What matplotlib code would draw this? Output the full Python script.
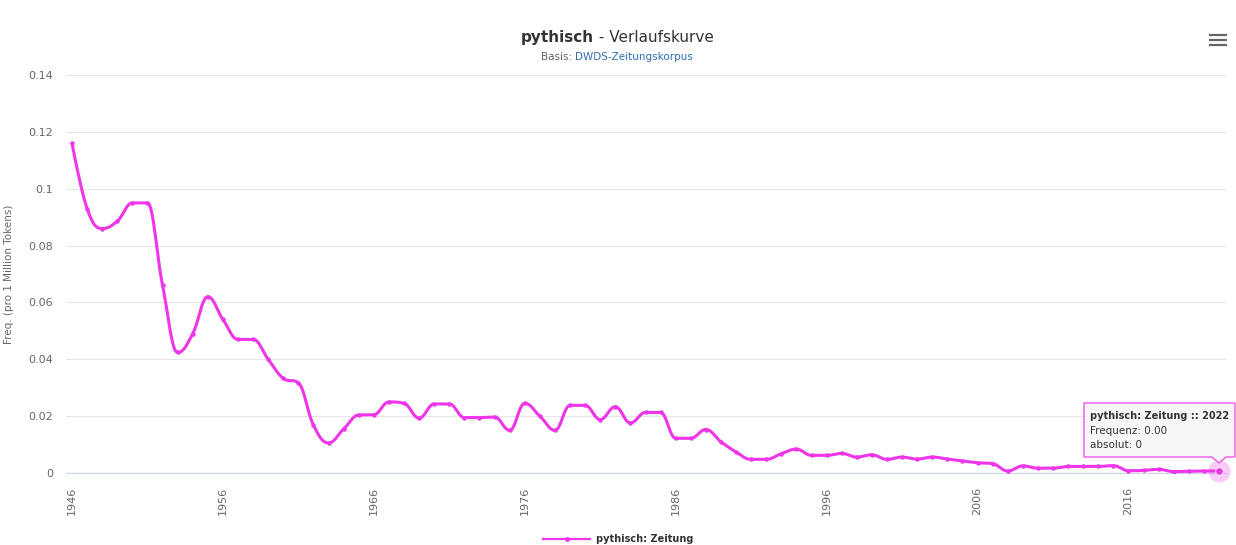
import numpy as np
import matplotlib
matplotlib.use("Agg")
import matplotlib.pyplot as plt
from matplotlib.patches import Polygon

# --- Daten ---
years = list(range(1946, 2023))
freq = [
    0.1160, 0.0930, 0.0860, 0.0886, 0.0950, 0.0950, 0.0660, 0.0424, 0.0490, 0.0620,
    0.0540, 0.0470, 0.0470, 0.0400, 0.0333, 0.0317, 0.0168, 0.0106, 0.0155, 0.0204,
    0.0205, 0.0250, 0.0245, 0.0193, 0.0243, 0.0243, 0.0195, 0.0195, 0.0197, 0.0150,
    0.0245, 0.0200, 0.0150, 0.0238, 0.0238, 0.0188, 0.0233, 0.0176, 0.0213, 0.0213,
    0.0122, 0.0122, 0.0153, 0.0110, 0.0074, 0.0048, 0.0048, 0.0068, 0.0084, 0.0062,
    0.0062, 0.0069, 0.0056, 0.0064, 0.0048, 0.0056, 0.0049, 0.0056, 0.0049, 0.0043,
    0.0036, 0.0033, 0.0007, 0.0025, 0.0017, 0.0017, 0.0023, 0.0023, 0.0023, 0.0026,
    0.0008, 0.0009, 0.0013, 0.0005, 0.0006, 0.0007, 0.0007,
]
xticks = list(range(1946, 2017, 10))
yticks = [0, 0.02, 0.04, 0.06, 0.08, 0.1, 0.12, 0.14]
ytick_labels = ['0', '0.02', '0.04', '0.06', '0.08', '0.1', '0.12', '0.14']
series_name = 'pythisch: Zeitung'

LINE = '#ee35e8'
GRAY = '#666666'
W, H = 1236, 545


def spline_curve(xs, ys, smoothing=1.5, steps=24):
    """Spline wie bei Highcharts: Bezier-Segmente mit Kontrollpunkten aus den Nachbarn."""
    xs = np.asarray(xs, float)
    ys = np.asarray(ys, float)
    n = len(xs)
    lc = np.column_stack([xs, ys]).copy()
    rc = np.column_stack([xs, ys]).copy()
    denom = smoothing + 1
    for i in range(1, n - 1):
        x, y = xs[i], ys[i]
        lx, ly = xs[i - 1], ys[i - 1]
        nx, ny = xs[i + 1], ys[i + 1]
        lcx = (smoothing * x + lx) / denom
        lcy = (smoothing * y + ly) / denom
        rcx = (smoothing * x + nx) / denom
        rcy = (smoothing * y + ny) / denom
        if rcx != lcx:
            corr = (rcy - lcy) * (rcx - x) / (rcx - lcx) + y - rcy
            lcy += corr
            rcy += corr
        if lcy > ly and lcy > y:
            lcy = max(ly, y)
            rcy = 2 * y - lcy
        elif lcy < ly and lcy < y:
            lcy = min(ly, y)
            rcy = 2 * y - lcy
        if rcy > ny and rcy > y:
            rcy = max(ny, y)
            lcy = 2 * y - rcy
        elif rcy < ny and rcy < y:
            rcy = min(ny, y)
            lcy = 2 * y - rcy
        lc[i] = (lcx, lcy)
        rc[i] = (rcx, rcy)
    t = np.linspace(0, 1, steps)[:, None]
    pts = []
    for i in range(1, n):
        p0 = np.array([xs[i - 1], ys[i - 1]])
        p1 = rc[i - 1]
        p2 = lc[i]
        p3 = np.array([xs[i], ys[i]])
        seg = ((1 - t) ** 3) * p0 + 3 * ((1 - t) ** 2) * t * p1 + 3 * (1 - t) * t ** 2 * p2 + t ** 3 * p3
        pts.append(seg if i == 1 else seg[1:])
    pts = np.vstack(pts)
    return pts[:, 0], pts[:, 1]


def fx(px):
    return px / W


def fy(py):
    return 1 - py / H


plt.rcParams['font.family'] = 'DejaVu Sans'
fig = plt.figure(figsize=(W / 100, H / 100), dpi=100)
fig.set_facecolor('white')

# Plotbereich in Pixeln
left_px, right_px, top_px, bottom_px = 65.5, 1225.5, 75, 473
ax = fig.add_axes([fx(left_px), fy(bottom_px), (right_px - left_px) / W, (bottom_px - top_px) / H])
ax.set_facecolor('white')

px_per_year = (1219 - 72) / (2022 - 1946)
ax.set_xlim(1946 - (72 - left_px) / px_per_year, 2022 + (right_px - 1219) / px_per_year)
ax.set_ylim(0, 0.14)

ax.set_yticks(yticks)
ax.set_yticklabels(ytick_labels)
ax.set_xticks(xticks)
ax.set_xticklabels([str(y) for y in xticks], rotation=90)
ax.tick_params(axis='both', length=0, labelsize=8, labelcolor=GRAY)
ax.tick_params(axis='y', pad=9)
ax.tick_params(axis='x', pad=10)
ax.grid(axis='y', color='#e6e6e6', linewidth=0.8)
ax.set_axisbelow(True)
for s in ['left', 'right', 'top']:
    ax.spines[s].set_visible(False)
ax.spines['bottom'].set_color('#ccd6eb')
ax.spines['bottom'].set_linewidth(0.8)

ax.set_ylabel('Freq. (pro 1 Million Tokens)', fontsize=7.5, color=GRAY, labelpad=10)

# Kurve
sx, sy = spline_curve(years, freq)
ax.plot(sx, sy, color=LINE, linewidth=2.2, solid_capstyle='round', solid_joinstyle='round', zorder=3)
ax.plot(years, freq, 'o', color=LINE, markersize=2.2, zorder=4)

# hervorgehobener Punkt 2022
ax.plot([years[-1]], [freq[-1]], 'o', color=LINE, markersize=16, alpha=0.25, markeredgewidth=0, zorder=5,
        clip_on=False)
ax.plot([years[-1]], [freq[-1]], 'o', color=LINE, markersize=5.5, markeredgecolor='white',
        markeredgewidth=0.6, zorder=6, clip_on=False)

# Titel
fig.canvas.draw()
renderer = fig.canvas.get_renderer()


def centered_pieces(pieces, cx, cy, size):
    arts = []
    for txt, weight, color in pieces:
        arts.append(fig.text(0, fy(cy), txt, fontsize=size, fontweight=weight, color=color, va='center'))
    widths = [a.get_window_extent(renderer).width for a in arts]
    x = cx - sum(widths) / 2
    for a, w in zip(arts, widths):
        a.set_x(fx(x))
        x += w


centered_pieces([('pythisch', 'bold', '#333333'), (' - Verlaufskurve', 'normal', '#333333')], 617, 37.5, 11)
centered_pieces([('Basis: ', 'normal', GRAY), ('DWDS-Zeitungskorpus', 'normal', '#2f6fb5')], 617, 57.5, 7.5)

# Menue-Symbol
for yy in (34.7, 39.7, 44.7):
    fig.add_artist(plt.Line2D([fx(1210), fx(1225.5)], [fy(yy), fy(yy)], color=GRAY, linewidth=1.6,
                              transform=fig.transFigure))

# Legende
fig.add_artist(plt.Line2D([fx(543), fx(590)], [fy(539), fy(539)], color=LINE, linewidth=1.6,
                          transform=fig.transFigure))
fig.add_artist(plt.Line2D([fx(566.5)], [fy(539)], color=LINE, marker='o', markersize=2.5,
                          transform=fig.transFigure))
fig.text(fx(596), fy(539), series_name, fontsize=7, fontweight='bold', color='#333333', va='center')

# Tooltip
px, py = ax.transData.transform((years[-1], freq[-1]))
py = H - py
bx0, bx1, by0, by1 = px - 135, px + 16, py - 68, py - 14
tip = [(bx0, by0), (bx1, by0), (bx1, by1), (px + 7, by1), (px, py - 8), (px - 7, by1), (bx0, by1)]
fig.add_artist(Polygon([(fx(a), fy(b)) for a, b in tip], closed=True, facecolor='#f7f7f7',
                       edgecolor=LINE, linewidth=0.9, alpha=0.92, transform=fig.transFigure, zorder=10))
fig.text(fx(bx0 + 6), fy(by0 + 13), f'{series_name} :: {years[-1]}', fontsize=7, fontweight='bold',
         color='#333333', va='center', zorder=11)
fig.text(fx(bx0 + 6), fy(by0 + 27.5), f'Frequenz: {freq[-1]:.2f}', fontsize=7.5, color='#333333',
         va='center', zorder=11)
fig.text(fx(bx0 + 6), fy(by0 + 42), 'absolut: 0', fontsize=7.5, color='#333333', va='center', zorder=11)

fig.savefig('out.png', dpi=100, facecolor='white')
